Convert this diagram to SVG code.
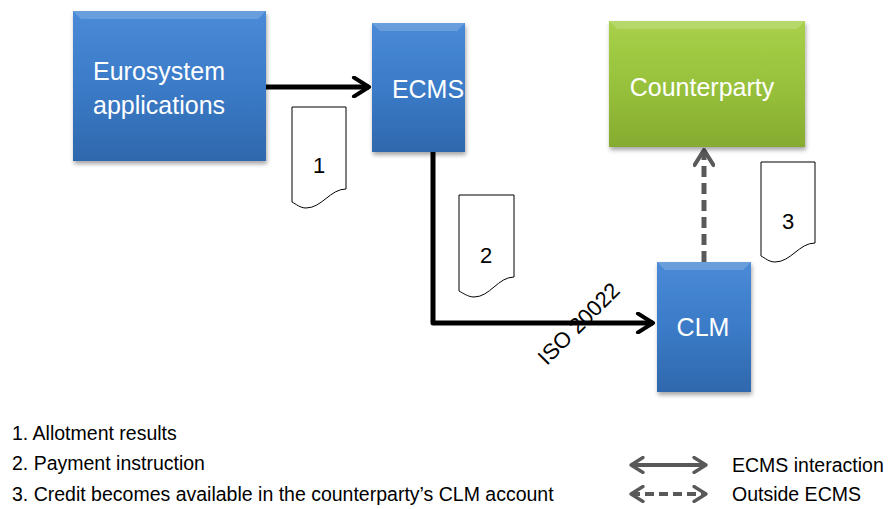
<svg xmlns="http://www.w3.org/2000/svg" width="895" height="509" viewBox="0 0 895 509">
<defs>
<linearGradient id="gBlue" x1="0" y1="0" x2="0" y2="1">
<stop offset="0" stop-color="#4a8ad6"/>
<stop offset="0.5" stop-color="#3b7bc8"/>
<stop offset="1" stop-color="#2f68ad"/>
</linearGradient>
<linearGradient id="gGreen" x1="0" y1="0" x2="0" y2="1">
<stop offset="0" stop-color="#a8d04a"/>
<stop offset="0.5" stop-color="#98c23c"/>
<stop offset="1" stop-color="#86ab30"/>
</linearGradient>
<filter id="sh" x="-10%" y="-10%" width="125%" height="125%">
<feDropShadow dx="1" dy="3" stdDeviation="2" flood-color="#000" flood-opacity="0.35"/>
</filter>
<marker id="chev" viewBox="0 0 12 12" refX="10" refY="6" markerWidth="4.5" markerHeight="4.5" orient="auto" markerUnits="strokeWidth">
<path d="M2,1 L10,6 L2,11" fill="none" stroke="#000" stroke-width="2.2" stroke-linecap="round" stroke-linejoin="round"/>
</marker>
<marker id="chevG" viewBox="0 0 12 12" refX="10" refY="6" markerWidth="4.5" markerHeight="4.5" orient="auto-start-reverse" markerUnits="strokeWidth">
<path d="M2,1 L10,6 L2,11" fill="none" stroke="#595959" stroke-width="2.2" stroke-linecap="round" stroke-linejoin="round"/>
</marker>
</defs>
<style>
.box{filter:url(#sh)}
.bt{font-family:"Liberation Sans",Arial,sans-serif;font-size:25px;fill:#fff}
.doc{fill:#fff;stroke:#000;stroke-width:1}
.dn{font-family:"Liberation Sans",Arial,sans-serif;font-size:22px;fill:#000;text-anchor:middle}
.t{font-family:"Liberation Sans",Arial,sans-serif;font-size:19.5px;fill:#000}
.hl{fill:#fff;opacity:0.18}
</style>

<g id="connectors">
<line x1="266" y1="87" x2="369" y2="87" stroke="#000" stroke-width="5" marker-end="url(#chev)"/>
<path d="M433,152 L433,323 L653,323" fill="none" stroke="#000" stroke-width="5" stroke-linejoin="round" marker-end="url(#chev)"/>
<line x1="704" y1="262" x2="704" y2="150" stroke="#595959" stroke-width="5" stroke-dasharray="11,6" marker-end="url(#chevG)"/>
<text class="dn" transform="translate(584,329) rotate(-45)" font-size="26">ISO 20022</text>
</g>

<g id="eurosystem">
<rect class="box" x="73" y="11" width="193" height="150" fill="url(#gBlue)"/>
<polygon class="hl" points="73,11 266,11 258,19 81,19"/>
<text class="bt" x="93" y="80">Eurosystem</text>
<text class="bt" x="93" y="114">applications</text>
</g>

<g id="ecms">
<rect class="box" x="372" y="23" width="93" height="129" fill="url(#gBlue)"/>
<polygon class="hl" points="372,23 465,23 457,31 380,31"/>
<text class="bt" x="428" y="98" text-anchor="middle">ECMS</text>
</g>

<g id="counterparty">
<rect class="box" x="609" y="21" width="196" height="126" fill="url(#gGreen)"/>
<polygon class="hl" points="609,21 805,21 797,29 617,29"/>
<text class="bt" x="702" y="96" text-anchor="middle">Counterparty</text>
</g>

<g id="clm">
<rect class="box" x="657" y="262" width="94" height="130" fill="url(#gBlue)"/>
<polygon class="hl" points="657,262 751,262 743,270 665,270"/>
<text class="bt" x="703" y="336" text-anchor="middle">CLM</text>
</g>

<g id="doc1">
<path class="doc" d="M292,107 L346,107 L346,189 C330,189 322,208 306,208 C300,208 296,204 292,202 Z"/>
<text class="dn" x="319" y="173">1</text>
</g>

<g id="doc2">
<path class="doc" d="M459,195 L514,195 L514,277 C498,277 490,297 474,297 C468,297 463,293 459,291 Z"/>
<text class="dn" x="486" y="263">2</text>
</g>

<g id="doc3">
<path class="doc" d="M761,162 L815,162 L815,243 C799,243 791,262 775,262 C769,262 765,258 761,256 Z"/>
<text class="dn" x="788" y="229">3</text>
</g>

<g id="notes">
<text class="t" x="12" y="440">1. Allotment results</text>
<text class="t" x="12" y="470">2. Payment instruction</text>
<text class="t" x="12" y="501">3. Credit becomes available in the counterparty’s CLM account</text>
</g>

<g id="legend">
<line x1="631" y1="465" x2="706" y2="465" stroke="#595959" stroke-width="4" marker-start="url(#chevG)" marker-end="url(#chevG)"/>
<line x1="631" y1="494" x2="706" y2="494" stroke="#595959" stroke-width="4" stroke-dasharray="9,5" marker-start="url(#chevG)" marker-end="url(#chevG)"/>
<text class="t" x="732" y="472">ECMS interaction</text>
<text class="t" x="732" y="501">Outside ECMS</text>
</g>
</svg>
